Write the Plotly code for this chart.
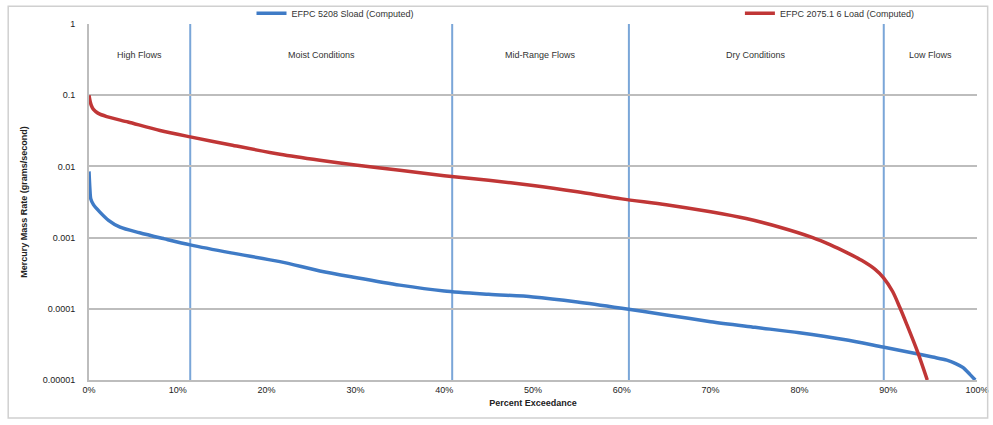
import plotly.graph_objects as go

# Flow duration (percent of time exceeded) and computed mercury mass rates (g/s)
pct_5208 = [0, 0.1, 0.2, 0.5, 1.2, 2.2, 3.5, 5.7, 8.5, 11.4, 16, 21.5, 26, 30, 35, 40, 45, 50,
            55, 60, 65, 70, 75, 80, 85, 89.4, 92.8, 95, 96.6, 97.6, 98.4, 99.2, 99.8]
load_5208 = [8.5e-3, 4.8e-3, 3.5e-3, 2.9e-3, 2.3e-3, 1.75e-3, 1.4e-3, 1.17e-3, 9.6e-4, 7.9e-4,
             6.1e-4, 4.6e-4, 3.4e-4, 2.75e-4, 2.15e-4, 1.78e-4, 1.6e-4, 1.47e-4,
             1.25e-4, 1.02e-4, 8.2e-5, 6.6e-5, 5.5e-5, 4.6e-5, 3.7e-5, 2.9e-5, 2.4e-5,
             2.1e-5, 1.9e-5, 1.7e-5, 1.5e-5, 1.2e-5, 1.0e-5]

pct_2075 = [0, 0.15, 0.3, 0.5, 1, 2, 4.4, 8, 11.4, 16, 21.5, 26, 30, 35, 40, 45, 50, 55, 60,
            65, 70, 74, 77.8, 81.5, 83.5, 85.4, 87, 88.5, 89.5, 90.5, 91.3, 92.1, 93.3, 94.4]
load_2075 = [0.1, 0.08, 0.07, 0.063, 0.056, 0.05, 0.042, 0.032, 0.026, 0.02, 0.0148, 0.0122,
             0.0105, 0.0088, 0.0074, 0.0064, 0.0054, 0.0044, 0.0035, 0.0029, 0.0023,
             0.00185, 0.0014, 0.001, 7.9e-4, 6.1e-4, 4.8e-4, 3.6e-4, 2.7e-4, 1.75e-4,
             1.05e-4, 6.0e-5, 2.5e-5, 1.0e-5]

# Flow regime boundaries and labels
zone_edges = [11.4, 40.9, 60.8, 89.5]
zone_names = ["High Flows", "Moist Conditions", "Mid-Range Flows", "Dry Conditions", "Low Flows"]

x_ticks = [0, 10, 20, 30, 40, 50, 60, 70, 80, 90, 100]
x_tick_text = ["0%", "10%", "20%", "30%", "40%", "50%", "60%", "70%", "80%", "90%", "100%"]
y_ticks = [1e-5, 1e-4, 1e-3, 1e-2, 1e-1, 1]
y_tick_text = ["0.00001", "0.0001", "0.001", "0.01", "0.1", "1"]

blue = "#3f7bc6"
red = "#c03636"
zone_color = "#7aa6d8"
grid_color = "#bdbdbd"
font_family = "Liberation Sans, Arial, sans-serif"

fig = go.Figure()
fig.add_trace(go.Scatter(
    x=pct_5208, y=load_5208, mode="lines", name="EFPC 5208 Sload (Computed)",
    line=dict(color=blue, width=3.5, shape="spline", smoothing=0.8), legend="legend",
))
fig.add_trace(go.Scatter(
    x=pct_2075, y=load_2075, mode="lines", name="EFPC 2075.1 6 Load (Computed)",
    line=dict(color=red, width=3.5, shape="spline", smoothing=0.8), legend="legend2",
))

shapes = []
for edge in zone_edges:
    shapes.append(dict(type="line", xref="x", yref="paper", x0=edge, x1=edge, y0=0, y1=1,
                       line=dict(color=zone_color, width=2), layer="below"))
# outer chart frame
shapes.append(dict(type="rect", xref="paper", yref="paper", x0=-0.091, x1=1.012,
                   y0=-0.107, y1=1.05, line=dict(color="#d0d0d0", width=1.5)))

bounds = [0] + zone_edges + [100]
annotations = []
for i, name in enumerate(zone_names):
    annotations.append(dict(x=(bounds[i] + bounds[i + 1]) / 2, y=0.933, xref="x", yref="paper",
                            text=name, showarrow=False,
                            font=dict(size=9, color="#333333", family=font_family)))

legend_style = dict(orientation="h", yanchor="middle", y=1.03, itemwidth=30,
                    font=dict(size=9, color="#333333"), bgcolor="rgba(0,0,0,0)",
                    borderwidth=0)

fig.update_layout(
    width=993, height=425,
    margin=dict(l=89, r=16, t=24, b=45, autoexpand=False),
    paper_bgcolor="white", plot_bgcolor="white",
    font=dict(family=font_family, size=9, color="#222222"),
    shapes=shapes, annotations=annotations,
    legend=dict(x=0.183, xanchor="left", **legend_style),
    legend2=dict(x=0.733, xanchor="left", **legend_style),
    showlegend=True,
)
fig.update_xaxes(
    range=[0, 100], tickvals=x_ticks, ticktext=x_tick_text, showgrid=False, zeroline=False,
    showline=True, linecolor=grid_color, linewidth=2, ticks="",
    tickfont=dict(size=9, color="#222222"),
    title=dict(text="<b>Percent Exceedance</b>", font=dict(size=9), standoff=6),
)
fig.update_yaxes(
    type="log", range=[-5, 0], tickvals=y_ticks, ticktext=y_tick_text,
    showgrid=True, gridcolor=grid_color, gridwidth=2, zeroline=False,
    showline=True, linecolor=grid_color, linewidth=2, ticks="", ticklabelstandoff=10,
    tickfont=dict(size=9, color="#222222"),
    title=dict(text="<b>Mercury Mass Rate (grams/second)</b>", font=dict(size=9), standoff=14),
)

fig.write_html("out.html")
